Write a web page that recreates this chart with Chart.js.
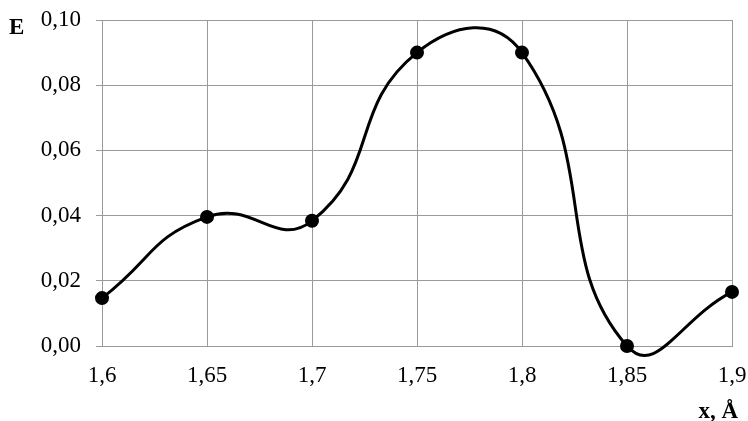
<!DOCTYPE html>
<html>
<head>
<meta charset="utf-8">
<script src="https://cdn.jsdelivr.net/npm/chart.js@4"></script>
<style>
  html, body { margin: 0; padding: 0; background: #fff; }
  #wrap { width: 748px; height: 421px; }
</style>
</head>
<body>
<div id="wrap"><canvas id="energy-chart" width="748" height="421"></canvas></div>
<script>
const xLabels = ["1,6", "1,65", "1,7", "1,75", "1,8", "1,85", "1,9"];
const energyValues = [0.0147, 0.0396, 0.0384, 0.0900, 0.0900, 0.0, 0.0166];
const yTicks = [0, 0.02, 0.04, 0.06, 0.08, 0.10];

const serif = "'Liberation Serif', 'DejaVu Serif', serif";

const axisTitles = {
    id: 'axisTitles',
    afterDraw(chart) {
        const ctx = chart.ctx;
        ctx.save();
        ctx.fillStyle = '#000';
        ctx.font = 'bold 23px ' + serif;
        ctx.textBaseline = 'alphabetic';
        ctx.textAlign = 'left';
        ctx.fillText('E', 9, 34);
        ctx.textAlign = 'right';
        ctx.fillText('x, Å', 738, 418);
        ctx.restore();
    }
};

const energyCanvas = document.getElementById('energy-chart');
let energyChart = new Chart(energyCanvas, {
    type: 'line',
    data: {
        labels: xLabels,
        datasets: [{
            data: energyValues,
            borderColor: '#000',
            backgroundColor: '#000',
            borderWidth: 3,
            pointRadius: 5.5,
            pointHoverRadius: 5.5,
            tension: 0.5,
            fill: false,
            clip: false
        }]
    },
    options: {
        responsive: false,
        animation: false,
        layout: {
            padding: { top: 20, right: 16, left: 0, bottom: 0 }
        },
        elements: {
            line: { capBezierPoints: false }
        },
        scales: {
            x: {
                offset: false,
                grid: { color: '#9a9a9a', lineWidth: 1, drawTicks: false },
                border: { color: '#9a9a9a' },
                ticks: {
                    color: '#000',
                    font: { family: serif, size: 23 },
                    padding: 16,
                    autoSkip: false,
                    maxRotation: 0
                },
                afterFit(scale) {
                    scale.height = 75;
                    scale.paddingLeft = 0;
                    scale.paddingRight = 0;
                }
            },
            y: {
                min: 0,
                max: 0.1,
                afterBuildTicks(scale) {
                    scale.ticks = yTicks.map(v => ({ value: v }));
                },
                grid: { color: '#9a9a9a', lineWidth: 1, tickLength: 6 },
                border: { color: '#9a9a9a' },
                ticks: {
                    color: '#000',
                    font: { family: serif, size: 23 },
                    padding: 15,
                    callback: v => v.toFixed(2).replace('.', ',')
                },
                afterFit(scale) {
                    scale.width = 102;
                    scale.paddingTop = 0;
                    scale.paddingBottom = 0;
                }
            }
        },
        plugins: {
            legend: { display: false },
            tooltip: { enabled: false }
        }
    },
    plugins: [axisTitles]
});
</script>
</body>
</html>
